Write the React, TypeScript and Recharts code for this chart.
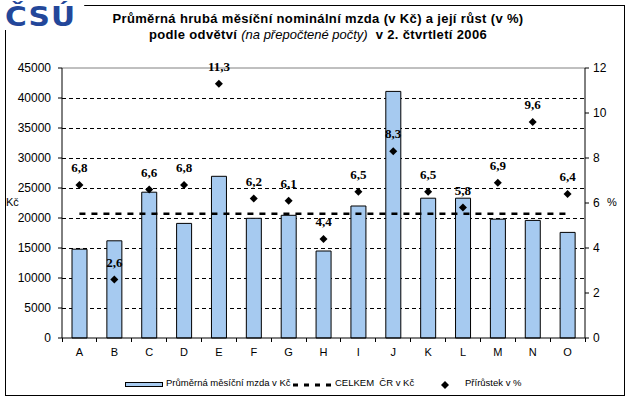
import React from 'react';
import { ComposedChart, Bar, Line, XAxis, YAxis, CartesianGrid, ReferenceLine, LabelList } from 'recharts';

// odvětví A–O
const categories = ['A', 'B', 'C', 'D', 'E', 'F', 'G', 'H', 'I', 'J', 'K', 'L', 'M', 'N', 'O'];
// průměrná měsíční mzda v Kč
const wages = [14800, 16200, 24300, 19100, 26950, 19950, 20450, 14500, 22000, 41100, 23300, 23300, 19800, 19600, 17600];
// přírůstek v %
const growth = [6.8, 2.6, 6.6, 6.8, 11.3, 6.2, 6.1, 4.4, 6.5, 8.3, 6.5, 5.8, 6.9, 9.6, 6.4];
// celkem ČR v Kč
const CELKEM_CR = 20700;

const leftTicks = [0, 5000, 10000, 15000, 20000, 25000, 30000, 35000, 40000, 45000];
const rightTicks = [0, 2, 4, 6, 8, 10, 12];
const gridValues = [5000, 10000, 15000, 20000, 25000, 30000, 35000, 40000];

const data = categories.map((c, i) => ({ name: c, mzda: wages[i], pct: growth[i] }));

const AXIS_FONT = 'Arial, "Liberation Sans", sans-serif';

const Diamond = (props: any) => {
  const { cx, cy } = props;
  if (cx == null || cy == null) return null;
  return <path d={`M${cx},${cy - 4}L${cx + 4},${cy}L${cx},${cy + 4}L${cx - 4},${cy}Z`} fill="#000" />;
};

const PctLabel = (props: any) => {
  const { x, y, value } = props;
  return (
    <text x={x} y={y - 13} textAnchor="middle" fontFamily='"Liberation Serif", "Times New Roman", serif'
      fontWeight="bold" fontSize={13} fill="#000">
      {Number(value).toFixed(1).replace('.', ',')}
    </text>
  );
};

const CatTick = (props: any) => {
  const { x, y, payload, index, visibleTicksCount } = props;
  const half = payload.offset || 0;
  return (
    <g>
      <line x1={x - half} x2={x - half} y1={y} y2={y + 4} stroke="#000" shapeRendering="crispEdges" />
      {index === visibleTicksCount - 1 && <line x1={x + half} x2={x + half} y1={y} y2={y + 4} stroke="#000" shapeRendering="crispEdges" />}
      <text x={x} y={y + 18} textAnchor="middle" fontFamily={AXIS_FONT} fontSize={11} fill="#000">{payload.value}</text>
    </g>
  );
};

const tickStyle = { fill: '#000', fontSize: 12, fontFamily: AXIS_FONT };

export default function App() {
  return (
    <div style={{ position: 'absolute', left: 0, top: 0, width: 631, height: 401, background: '#fff', fontFamily: AXIS_FONT }}>
      <div style={{ position: 'absolute', left: 5, top: 5, width: 620, height: 391, border: '1px solid #000', boxSizing: 'border-box' }} />
      <div style={{ position: 'absolute', left: 5, top: 4, width: 72, height: 26, background: '#fff', color: '#23479a',
        fontFamily: '"DejaVu Sans", sans-serif', fontWeight: 900, fontSize: 27, lineHeight: '26px', letterSpacing: 1,
        transform: 'scaleX(1.1)', transformOrigin: 'left' }}>ČSÚ</div>
      <div style={{ position: 'absolute', left: 0, width: 636, top: 11, textAlign: 'center', fontWeight: 'bold', fontSize: 13, lineHeight: '16px', letterSpacing: 0.35, whiteSpace: 'nowrap' }}>
        Průměrná hrubá měsíční nominální mzda (v Kč) a její růst (v %)
      </div>
      <div style={{ position: 'absolute', left: 0, width: 636, top: 27, textAlign: 'center', fontWeight: 'bold', fontSize: 13, lineHeight: '16px', letterSpacing: 0.35, whiteSpace: 'pre' }}>
        {'podle odvětví '}<span style={{ fontStyle: 'italic', fontWeight: 'normal', letterSpacing: 0 }}>(na přepočtené počty)</span>{'  v 2. čtvrtletí 2006'}
      </div>
      <div style={{ position: 'absolute', left: 6, top: 196, fontSize: 11 }}>Kč</div>
      <div style={{ position: 'absolute', left: 607, top: 196, fontSize: 11 }}>%</div>

      <div style={{ position: 'absolute', left: 0, top: 0 }}>
        <ComposedChart width={631} height={401} data={data} margin={{ top: 68, right: 16, bottom: 38, left: 32 }} barSize={15}>
          <CartesianGrid yAxisId="left" vertical={false} horizontalValues={gridValues} stroke="#000" strokeDasharray="4 3" shapeRendering="crispEdges" />
          <XAxis dataKey="name" height={25} axisLine={{ stroke: '#000' }} tickLine={false} tickSize={0} tickMargin={0} tick={<CatTick />} interval={0} />
          <YAxis yAxisId="left" width={30} domain={[0, 45000]} ticks={leftTicks} interval={0} axisLine={{ stroke: '#000' }}
            tickLine={{ stroke: '#000' }} tickSize={4} tickMargin={7} tick={tickStyle} />
          <YAxis yAxisId="right" orientation="right" width={30} domain={[0, 12]} ticks={rightTicks} interval={0} axisLine={{ stroke: '#000' }}
            tickLine={{ stroke: '#000' }} tickSize={4} tickMargin={4} tick={tickStyle} />
          <ReferenceLine yAxisId="left" y={45000} stroke="#808080" />
          <Bar yAxisId="left" dataKey="mzda" fill="#a6caf0" stroke="#000" strokeWidth={1} isAnimationActive={false} />
          <ReferenceLine yAxisId="left" segment={[{ x: 'A', y: CELKEM_CR }, { x: 'O', y: CELKEM_CR }]} stroke="#000" strokeWidth={2.6} strokeDasharray="6 6" />
          <Line yAxisId="right" dataKey="pct" stroke="none" dot={<Diamond />} activeDot={false} isAnimationActive={false}>
            <LabelList dataKey="pct" content={<PctLabel />} />
          </Line>
        </ComposedChart>
      </div>

      <div style={{ position: 'absolute', left: 125, top: 382, width: 38, height: 5, background: '#a6caf0', border: '1px solid #000', boxSizing: 'border-box' }} />
      <div style={{ position: 'absolute', left: 166, top: 377, fontSize: 9.5, whiteSpace: 'nowrap' }}>Průměrná měsíční mzda v Kč</div>
      <svg style={{ position: 'absolute', left: 293, top: 383 }} width={40} height={4}>
        <line x1={0} x2={40} y1={2} y2={2} stroke="#000" strokeWidth={3} strokeDasharray="5 6" />
      </svg>
      <div style={{ position: 'absolute', left: 335, top: 377, fontSize: 9.5, whiteSpace: 'nowrap' }}>CELKEM&nbsp; ČR v Kč</div>
      <svg style={{ position: 'absolute', left: 440, top: 380 }} width={10} height={10}>
        <path d="M5,1L9,5L5,9L1,5Z" fill="#000" />
      </svg>
      <div style={{ position: 'absolute', left: 465, top: 377, fontSize: 9.5, whiteSpace: 'nowrap' }}>Přírůstek v %</div>
    </div>
  );
}
